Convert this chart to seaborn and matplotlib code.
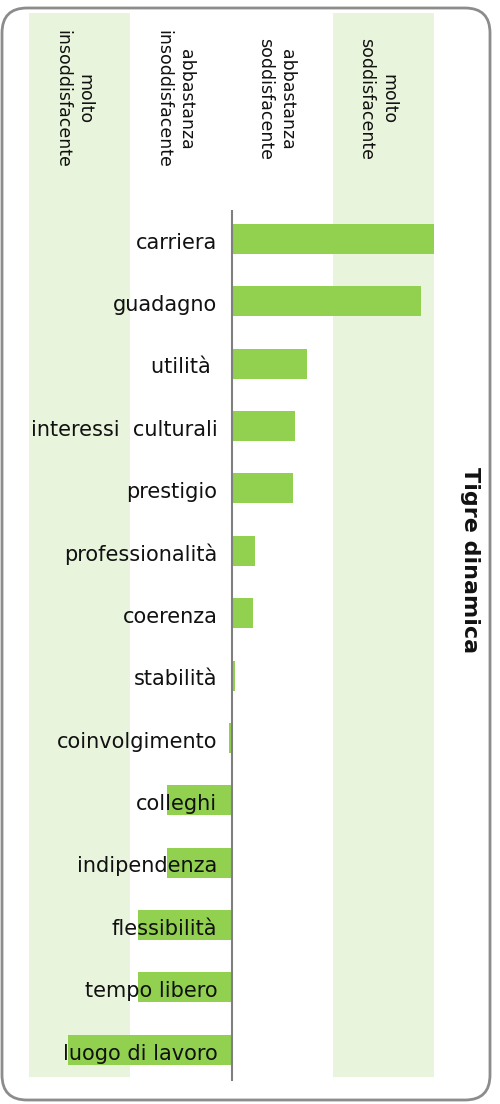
import matplotlib
matplotlib.use("Agg")
import matplotlib.pyplot as plt
import seaborn as sns
import pandas as pd
from matplotlib.patches import FancyBboxPatch

# satisfaction scale: -2 molto insoddisfacente ... +2 molto soddisfacente
categories = ["carriera", "guadagno", "utilità ", "interessi  culturali", "prestigio",
              "professionalità", "coerenza", "stabilità", "coinvolgimento", "colleghi",
              "indipendenza", "flessibilità", "tempo libero", "luogo di lavoro"]
scores = [2.01, 1.87, 0.75, 0.63, 0.61, 0.23, 0.21, 0.03, -0.02, -0.64,
          -0.64, -0.92, -0.92, -1.61]
scale_labels = ["molto\ninsoddisfacente", "abbastanza\ninsoddisfacente",
                "abbastanza\nsoddisfacente", "molto\nsoddisfacente"]
scale_centers = [-1.5, -0.5, 0.5, 1.5]
title = "Tigre dinamica"

bar_green = "#92D050"
band_green = "#E9F4DD"

df = pd.DataFrame({"categoria": categories, "punteggio": scores})

sns.set_style("white")
plt.rcParams["font.family"] = ["DejaVu Sans"]

fig = plt.figure(figsize=(5, 11.04), dpi=100)
ax = fig.add_axes([0.058, 0.0208, 0.81, 0.9674])

sns.barplot(data=df, x="punteggio", y="categoria", orient="h", color=bar_green,
            saturation=1, width=0.48, linewidth=0, ax=ax, zorder=2)

ax.set_xlim(-2, 2)
ax.set_ylim(13.5, -3.62)
ax.axis("off")

# light bands for the extreme classes
ax.axvspan(-2, -1, ymin=0.004, ymax=1, color=band_green, zorder=0, lw=0)
ax.axvspan(1, 2, ymin=0.004, ymax=1, color=band_green, zorder=0, lw=0)

# zero axis
ax.vlines(0, -0.46, 13.5, color="#7f7f7f", lw=1.5, zorder=3)

for i, name in enumerate(categories):
    ax.text(-0.14, i + 0.06, name, ha="right", va="center", fontsize=15,
            color="#111111", zorder=4)

for xc, lab in zip(scale_centers, scale_labels):
    ax.text(xc - 0.06, -2.24, lab, rotation=-90, ha="center", va="center",
            multialignment="center", fontsize=12.5, color="#111111",
            linespacing=1.3)

fig.text(0.94, 0.493, title, rotation=-90, ha="center", va="center",
         fontsize=16, fontweight="bold", color="#111111")

frame = FancyBboxPatch((2, 4), 488, 1092, boxstyle="round,pad=0,rounding_size=25",
                       transform=None, fill=False, edgecolor="#8c8c8c", lw=2)
fig.patches.append(frame)

fig.savefig("out.png", dpi=100)
